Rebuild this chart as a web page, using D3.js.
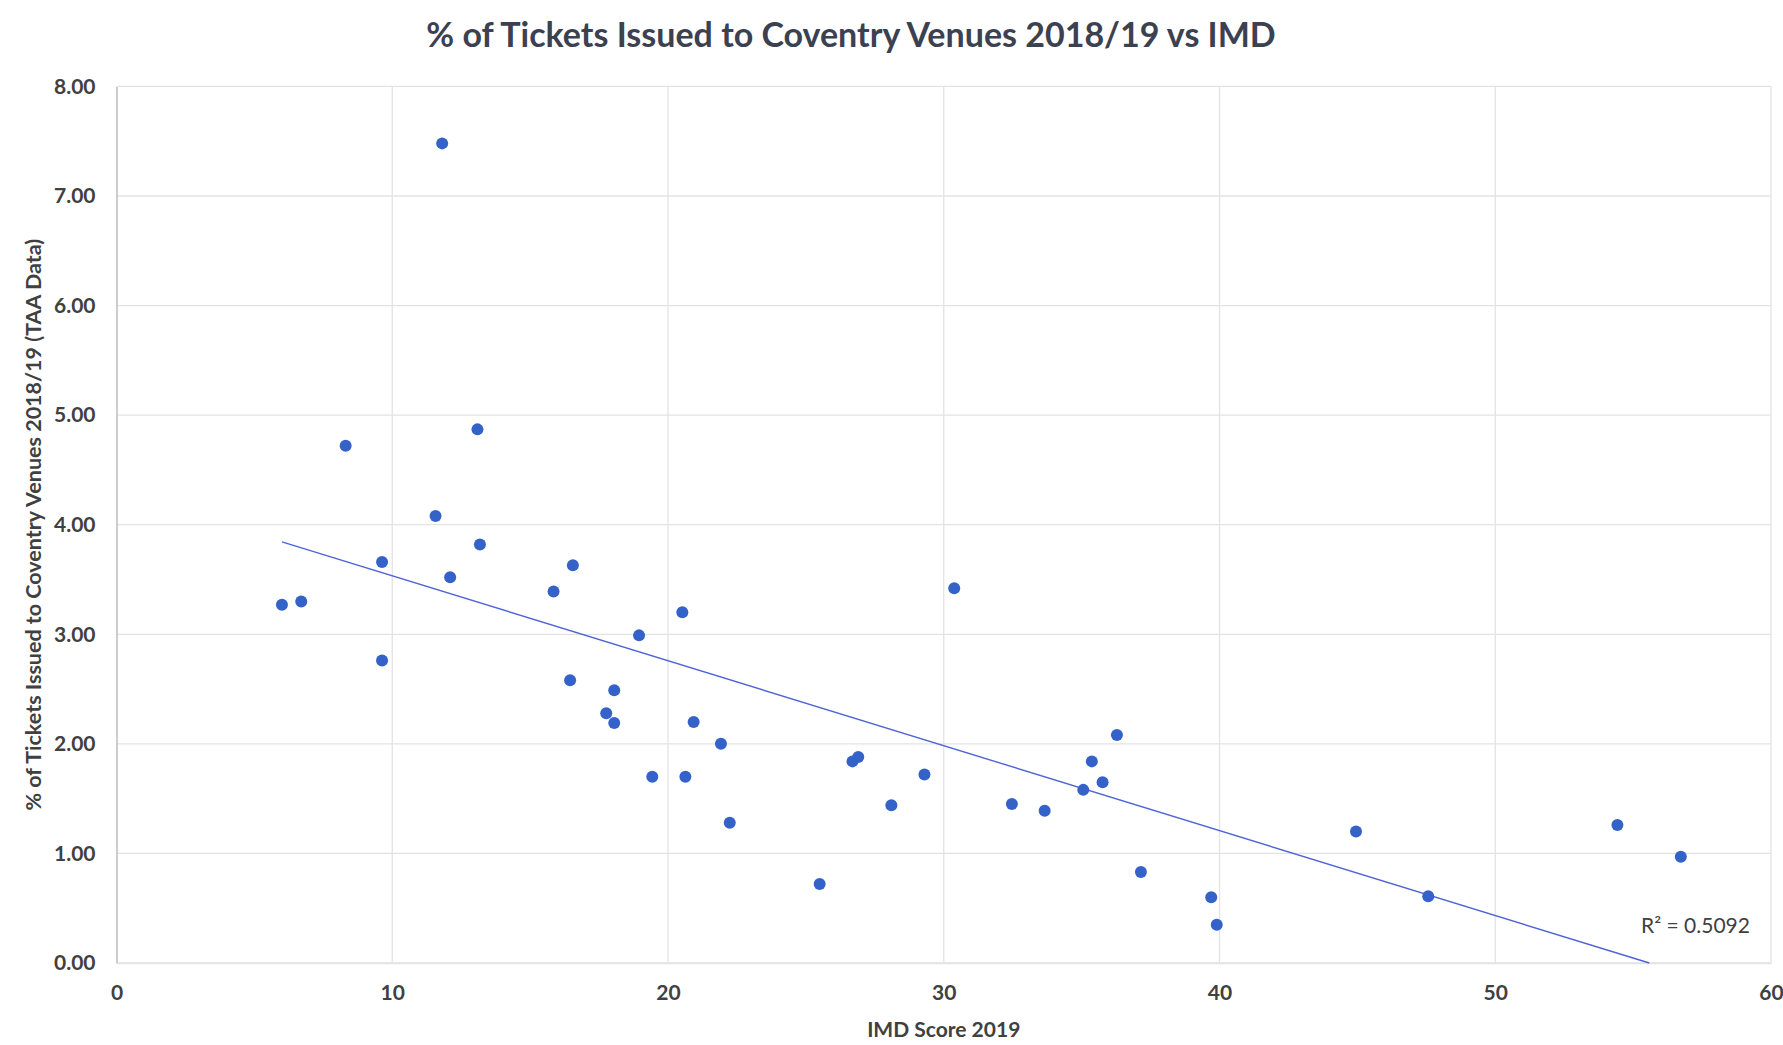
<!DOCTYPE html>
<html>
<head>
<meta charset="utf-8">
<script src="https://cdn.jsdelivr.net/npm/d3@7"></script>
<style>
  html, body { margin: 0; padding: 0; background: #ffffff; }
  svg { display: block; }
</style>
</head>
<body>
<svg id="chart" width="1783" height="1045"></svg>
<script>
const titleText = "% of Tickets Issued to Coventry Venues 2018/19 vs IMD";
const xTitle = "IMD Score 2019";
const yTitle = "% of Tickets Issued to Coventry Venues 2018/19 (TAA Data)";
const r2Label = "R\u00B2 = 0.5092";

const imdScore = [11.81, 8.31, 13.09, 11.57, 9.63, 13.18, 12.10, 6.00, 6.70, 9.63,
  15.85, 16.55, 20.52, 18.95, 16.45, 18.05, 17.76, 18.05, 20.93, 21.92,
  19.43, 20.63, 22.24, 25.50, 26.69, 26.90, 28.10, 29.30, 30.38, 32.47,
  33.66, 35.06, 35.37, 35.76, 36.28, 37.15, 39.70, 39.90, 44.95, 47.57,
  54.43, 56.73];
const ticketPct = [7.48, 4.72, 4.87, 4.08, 3.66, 3.82, 3.52, 3.27, 3.30, 2.76,
  3.39, 3.63, 3.20, 2.99, 2.58, 2.49, 2.28, 2.19, 2.20, 2.00,
  1.70, 1.70, 1.28, 0.72, 1.84, 1.88, 1.44, 1.72, 3.42, 1.45,
  1.39, 1.58, 1.84, 1.65, 2.08, 0.83, 0.60, 0.35, 1.20, 0.61,
  1.26, 0.97];
const xTicks = [0, 10, 20, 30, 40, 50, 60];
const yTicks = [0, 1, 2, 3, 4, 5, 6, 7, 8];

(function () {
const svg = d3.select("#chart");
const pL = 116.5, pR = 1771, pT = 86.4, pB = 963;

const x = d3.scaleLinear().domain([0, 60]).range([pL, pR]);
const y = d3.scaleLinear().domain([0, 8]).range([pB, pT]);

const FONT = "Lato, 'Open Sans', 'DejaVu Sans', sans-serif";
const TXT = "#404040";

// gridlines
const grid = svg.append("g");
grid.selectAll("line.h").data(yTicks).enter().append("line").attr("class", "h")
  .attr("x1", pL).attr("x2", pR)
  .attr("y1", d => y(d)).attr("y2", d => y(d))
  .attr("stroke", "#e3e3e3").attr("stroke-width", 1.3);
grid.selectAll("line.v").data(xTicks.filter(d => d > 0)).enter().append("line").attr("class", "v")
  .attr("y1", pT).attr("y2", pB)
  .attr("x1", d => x(d)).attr("x2", d => x(d))
  .attr("stroke", "#e3e3e3").attr("stroke-width", 1.3);

// axes
const yAxis = d3.axisLeft(y).tickValues(yTicks).tickFormat(d3.format(".2f")).tickSize(0).tickPadding(21);
const gy = svg.append("g").attr("transform", `translate(${pL},0)`).call(yAxis);
gy.select(".domain").attr("stroke", "#bdbdbd").attr("stroke-width", 1.5);
gy.selectAll("text").attr("font-family", FONT).attr("font-size", 21).attr("font-weight", 700).attr("fill", TXT);

const xAxis = d3.axisBottom(x).tickValues(xTicks).tickFormat(d3.format("d")).tickSize(0).tickPadding(22);
const gx = svg.append("g").attr("transform", `translate(0,${pB})`).call(xAxis);
gx.select(".domain").attr("stroke", "#e3e3e3").attr("stroke-width", 1.3);
gx.selectAll("text").attr("font-family", FONT).attr("font-size", 21).attr("font-weight", 700).attr("fill", TXT);

// trendline (least squares)
const n = imdScore.length;
const mx = d3.mean(imdScore), my = d3.mean(ticketPct);
let sxy = 0, sxx = 0;
for (let i = 0; i < n; i++) { sxy += (imdScore[i]-mx)*(ticketPct[i]-my); sxx += (imdScore[i]-mx)**2; }
const slope = sxy / sxx, intercept = my - slope * mx;
const x0 = d3.min(imdScore);
let x1 = d3.max(imdScore);
if (slope < 0) x1 = Math.min(x1, -intercept / slope);
svg.append("line")
  .attr("x1", x(x0)).attr("y1", y(intercept + slope * x0))
  .attr("x2", x(x1)).attr("y2", y(intercept + slope * x1))
  .attr("stroke", "#4f62d6").attr("stroke-width", 1.4);

// points
svg.append("g").selectAll("circle").data(imdScore).enter().append("circle")
  .attr("cx", d => x(d)).attr("cy", (d, i) => y(ticketPct[i]))
  .attr("r", 6).attr("fill", "#3462c8");

// R² label
svg.append("text").attr("x", 1641).attr("y", 933)
  .attr("font-family", FONT).attr("font-size", 21).attr("fill", TXT).text(r2Label);

// titles
svg.append("text").attr("x", 851).attr("y", 47).attr("text-anchor", "middle")
  .attr("font-family", FONT).attr("font-size", 34).attr("font-weight", 700).attr("fill", "#3b4150")
  .text(titleText);
svg.append("text").attr("x", (pL + pR) / 2).attr("y", 1037).attr("text-anchor", "middle")
  .attr("font-family", FONT).attr("font-size", 21).attr("font-weight", 700).attr("fill", TXT)
  .text(xTitle);
svg.append("text").attr("transform", `translate(41,${(pT + pB) / 2}) rotate(-90)`)
  .attr("text-anchor", "middle")
  .attr("font-family", FONT).attr("font-size", 21.5).attr("font-weight", 700).attr("fill", TXT)
  .text(yTitle);
})();
</script>
</body>
</html>
